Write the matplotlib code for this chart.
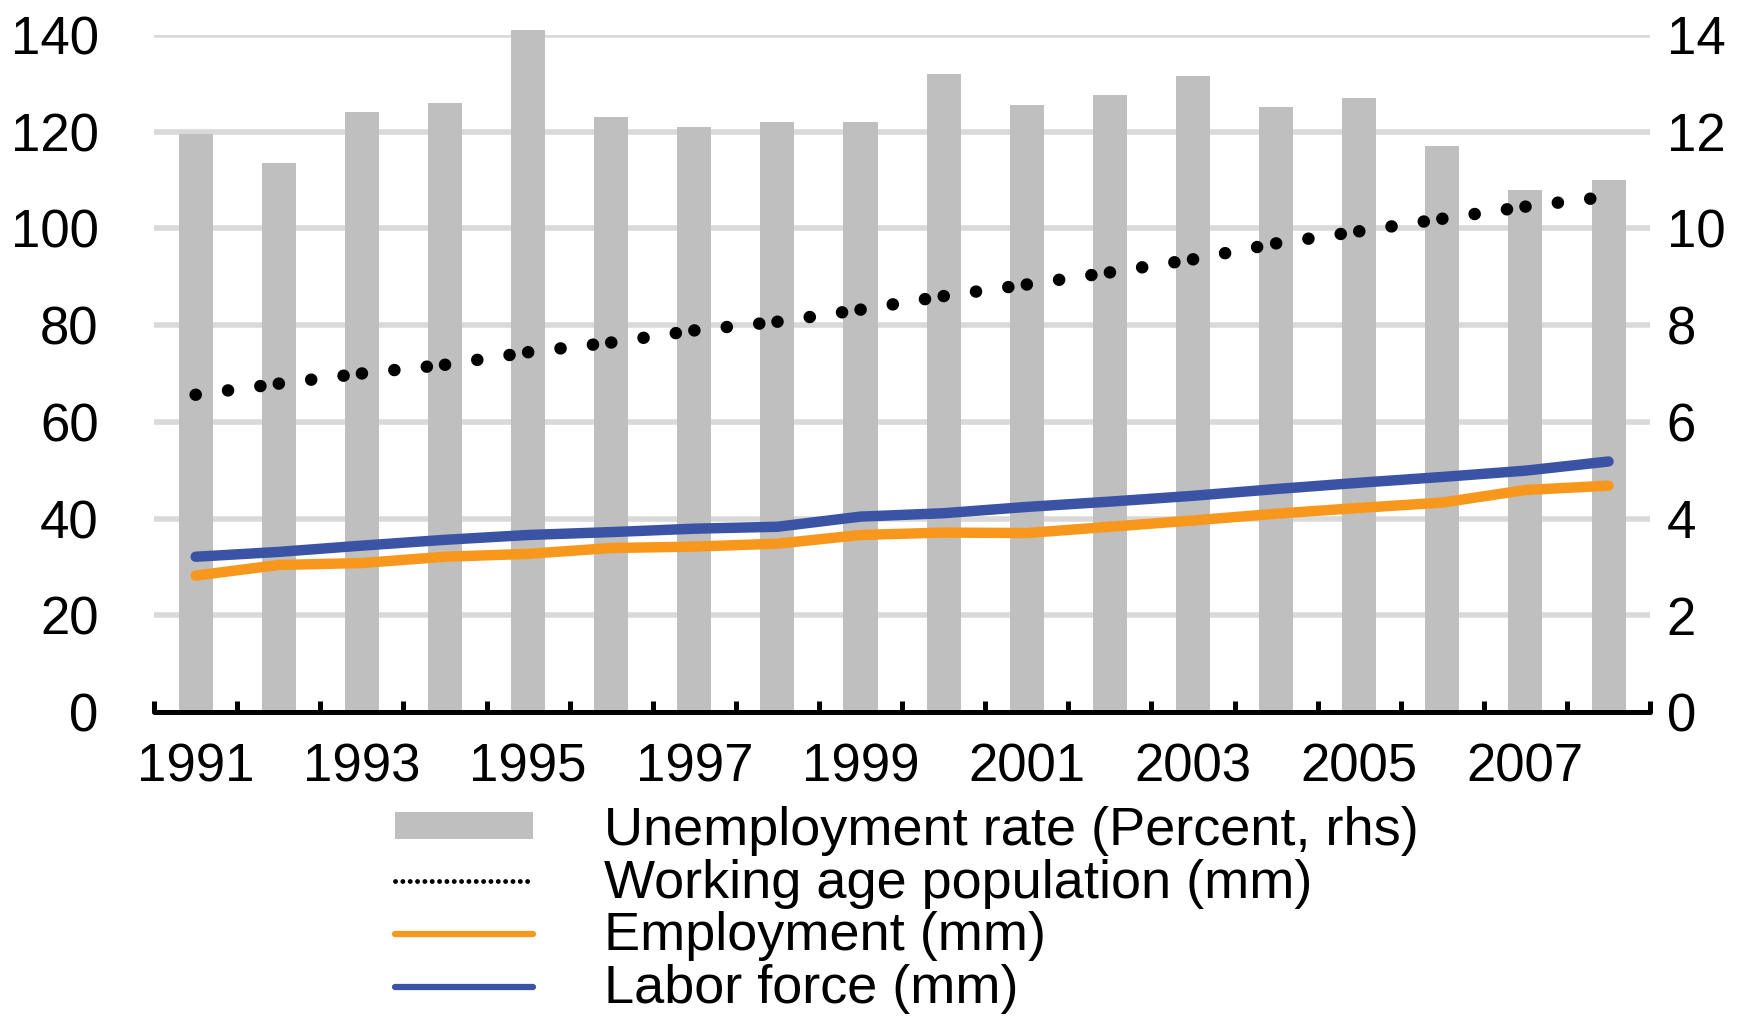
import matplotlib.pyplot as plt
from matplotlib.lines import Line2D
from matplotlib.patches import Patch

plt.rcParams['font.family'] = ['Liberation Sans', 'DejaVu Sans']

# Données
years = list(range(1991, 2009))
unemployment = [11.95, 11.35, 12.4, 12.6, 14.1, 12.3, 12.1, 12.2, 12.2,
                13.2, 12.55, 12.75, 13.15, 12.5, 12.7, 11.7, 10.8, 11.0]
working_age = [65.6, 67.9, 70.0, 71.8, 74.4, 76.4, 78.9, 80.7, 83.2,
               86.0, 88.4, 90.9, 93.6, 96.9, 99.4, 102.0, 104.5, 106.6]
employment = [28.2, 30.4, 30.8, 32.1, 32.7, 33.9, 34.2, 34.8, 36.6,
              37.1, 37.0, 38.3, 39.6, 41.0, 42.2, 43.3, 45.9, 46.8]
labor_force = [32.1, 33.1, 34.4, 35.6, 36.6, 37.2, 37.9, 38.3, 40.4,
               41.1, 42.4, 43.5, 44.7, 46.1, 47.4, 48.6, 49.9, 51.8]
year_labels = [str(y) for y in years[::2]]

grey = "#bfbfbf"
orange = "#f7981d"
blue = "#3a53a4"
fs = 38

fig = plt.figure(figsize=(17.43, 10.19), dpi=100)
ax = fig.add_axes([0.0884, 0.3013, 0.8583, 0.6644])
ax2 = ax.twinx()
ax.set_zorder(ax2.get_zorder() + 1)
ax.patch.set_visible(False)

x = list(range(len(years)))

# barres (axe de droite)
for v in [2, 4, 6, 8, 10, 12, 14]:
    ax2.axhline(v, color="#d9d9d9", lw=4, solid_capstyle="round", zorder=0)
ax2.bar(x, unemployment, width=0.41, color=grey, zorder=2, clip_on=False)
ax2.set_ylim(0, 14)

# lignes (axe de gauche)
for i in range(len(x) - 1):
    ax.plot(x[i:i + 2], working_age[i:i + 2], color="black", lw=9,
            linestyle=(0, (0.01, 2.6)), dash_capstyle="round", zorder=3)
ax.plot(x, employment, color=orange, lw=7.5, solid_capstyle="round", zorder=4)
ax.plot(x, labor_force, color=blue, lw=7.5, solid_capstyle="round", zorder=5)
ax.set_ylim(0, 140)
ax.set_xlim(-0.5, len(years) - 0.5)

# axes
for a in (ax, ax2):
    for s in a.spines.values():
        s.set_visible(False)
ax.spines["bottom"].set_visible(True)
ax.spines["bottom"].set_linewidth(3.6)
ax.spines["bottom"].set_capstyle("round")

ax.set_xticks([i - 0.5 for i in range(len(years) + 1)])
ax.set_xticklabels([])
ax.tick_params(axis="x", which="major", direction="in", length=8, width=3.6)
ax.set_xticks(x[::2], year_labels, minor=True)
ax.tick_params(axis="x", which="minor", length=0, pad=22, labelsize=fs)

ax.set_yticks(range(0, 141, 20))
ax.tick_params(axis="y", length=0, pad=40, labelsize=fs)
ax2.set_yticks(range(0, 15, 2))
ax2.tick_params(axis="y", length=0, pad=12, labelsize=fs)

# légende
handles = [
    Patch(facecolor=grey),
    Line2D([], [], color="black", lw=3.5, linestyle=(0, (0.01, 1.5)), dash_capstyle="round"),
    Line2D([], [], color=orange, lw=4.5, solid_capstyle="round"),
    Line2D([], [], color=blue, lw=4.5, solid_capstyle="round"),
]
labels = ["Unemployment rate (Percent, rhs)", "Working age population (mm)",
          "Employment (mm)", "Labor force (mm)"]
fig.legend(handles, labels, loc="upper left", bbox_to_anchor=(395 / 1743, 1 - 806 / 1019),
           frameon=False, fontsize=39, handlelength=2.55, handleheight=0.4,
           handletextpad=1.3, labelspacing=0.05, borderpad=0, borderaxespad=0)

fig.savefig("out.png", dpi=100)
